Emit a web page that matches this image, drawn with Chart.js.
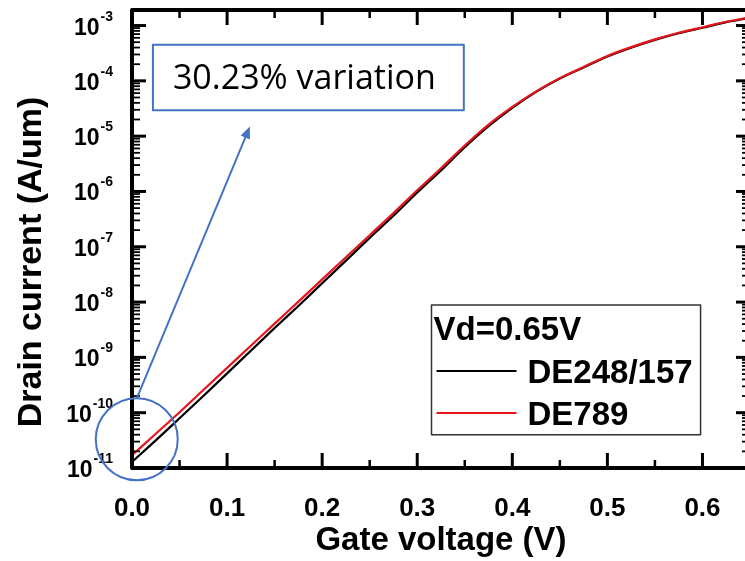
<!DOCTYPE html>
<html lang="en">
<head>
<meta charset="UTF-8">
<title>Drain current vs gate voltage</title>
<script src="https://cdn.jsdelivr.net/npm/chart.js"></script>
<style>
  html, body { margin: 0; padding: 0; overflow: hidden; background: #fff; }
  #wrap { width: 760px; height: 561px; }
</style>
</head>
<body>
<div id="wrap"><canvas id="idvg"></canvas></div>
<script>
// Gate voltage (V)
const gateVoltage = [0.000, 0.025, 0.050, 0.075, 0.100, 0.125, 0.150, 0.175, 0.200, 0.225, 0.250, 0.275, 0.300,
                     0.325, 0.350, 0.375, 0.400, 0.425, 0.450, 0.475, 0.500, 0.525, 0.550, 0.575, 0.600, 0.625, 0.650];

// Drain current (A/um)
const currentDE248 = [1.29e-11, 3.16e-11, 7.94e-11, 2.00e-10, 5.13e-10, 1.32e-9, 3.39e-9, 8.51e-9, 2.19e-8,
                      5.62e-8, 1.45e-7, 3.63e-7, 9.55e-7, 2.40e-6, 6.31e-6, 1.51e-5, 3.24e-5, 6.31e-5, 1.10e-4,
                      1.74e-4, 2.75e-4, 3.98e-4, 5.50e-4, 7.24e-4, 9.12e-4, 1.15e-3, 1.38e-3];
const currentDE789 = [1.70e-11, 4.17e-11, 1.02e-10, 2.57e-10, 6.46e-10, 1.62e-9, 4.07e-9, 1.02e-8, 2.57e-8,
                      6.46e-8, 1.62e-7, 4.07e-7, 1.05e-6, 2.63e-6, 6.76e-6, 1.62e-5, 3.39e-5, 6.46e-5, 1.12e-4,
                      1.78e-4, 2.82e-4, 4.07e-4, 5.62e-4, 7.41e-4, 9.33e-4, 1.17e-3, 1.41e-3];

const seriesNames = ['DE248/157', 'DE789'];
const xTickValues = [0, 0.1, 0.2, 0.3, 0.4, 0.5, 0.6];
const yExponents = [-11, -10, -9, -8, -7, -6, -5, -4, -3];
const legendTitle = 'Vd=0.65V';
const noteText = '30.23% variation';

const BOLD = '"Liberation Sans", Arial, sans-serif';
const BLUE = '#4472C4';

// where the call-out sits, in data units
const noteBox = { x0: 0.022, x1: 0.349, yTop: 4.5e-4, yBottom: 2.95e-5 };
const circleAt = { x: 0.005, y: 3.3e-11 };
const arrowTip = { x: 0.124, y: 1.5e-5 };
const legendBox = { x0: 0.315, x1: 0.598, yTop: 8.9e-9, yBottom: 4.0e-11 };

function line(ctx, x1, y1, x2, y2) {
    ctx.beginPath();
    ctx.moveTo(x1, y1);
    ctx.lineTo(x2, y2);
    ctx.stroke();
}

const decorPlugin = {
    id: 'decor',
    afterDraw(chart) {
        const { ctx, chartArea: a, scales: { x, y } } = chart;
        ctx.save();
        ctx.strokeStyle = '#000';
        ctx.fillStyle = '#000';

        // inward ticks, x (bottom and top)
        for (let i = 0; i <= 13; i++) {
            const px = x.getPixelForValue(i * 0.05);
            const major = i % 2 === 0;
            ctx.lineWidth = major ? 3 : 2.5;
            const len = major ? 15 : 8;
            line(ctx, px, a.bottom, px, a.bottom - len);
            line(ctx, px, a.top, px, a.top + len);
        }

        // inward ticks, y (left and right)
        for (const e of yExponents) {
            for (let m = 1; m <= 9; m++) {
                const v = m * Math.pow(10, e);
                if (v > y.max) break;
                const py = y.getPixelForValue(v);
                const major = m === 1;
                ctx.lineWidth = major ? 3 : 1.8;
                const len = major ? 14 : 8;
                line(ctx, a.left, py, a.left + len, py);
                line(ctx, a.right, py, a.right - len, py);
            }
        }

        // frame
        ctx.lineWidth = 4;
        ctx.lineJoin = 'round';
        ctx.strokeRect(a.left, a.top, a.right - a.left, a.bottom - a.top);

        // y tick labels 10^n
        const labelRight = a.left - 19;
        for (const e of yExponents) {
            const py = y.getPixelForValue(Math.pow(10, e));
            const sup = String(e);
            ctx.font = 'bold 14px ' + BOLD;
            const we = ctx.measureText(sup).width;
            ctx.textAlign = 'left';
            ctx.textBaseline = 'alphabetic';
            ctx.fillText(sup, labelRight - we, py - 5);
            ctx.font = 'bold 23px ' + BOLD;
            ctx.textAlign = 'right';
            ctx.fillText('10', labelRight - we - 1, py + 9);
        }

        // y title
        ctx.save();
        ctx.translate(29, 262);
        ctx.rotate(-Math.PI / 2);
        ctx.font = 'bold 34px ' + BOLD;
        ctx.textAlign = 'center';
        ctx.textBaseline = 'alphabetic';
        ctx.fillText('Drain current (A/um)', 0, 12);
        ctx.restore();

        // legend
        const lx0 = x.getPixelForValue(legendBox.x0), lx1 = x.getPixelForValue(legendBox.x1);
        const ly0 = y.getPixelForValue(legendBox.yTop), ly1 = y.getPixelForValue(legendBox.yBottom);
        ctx.fillStyle = '#fff';
        ctx.fillRect(lx0, ly0, lx1 - lx0, ly1 - ly0);
        ctx.strokeStyle = '#333';
        ctx.lineWidth = 1.5;
        ctx.strokeRect(lx0, ly0, lx1 - lx0, ly1 - ly0);
        ctx.fillStyle = '#000';
        ctx.font = 'bold 33px ' + BOLD;
        ctx.textAlign = 'left';
        ctx.textBaseline = 'alphabetic';
        ctx.fillText(legendTitle, lx0 + 2, ly0 + 23 + 12);
        const order = [1, 0]; // black first, then red
        order.forEach((di, row) => {
            const ds = chart.data.datasets[di];
            const cy = ly0 + 66 + row * 42;
            ctx.strokeStyle = ds.borderColor;
            ctx.lineWidth = 2;
            line(ctx, lx0 + 5, cy, lx0 + 85, cy);
            ctx.fillStyle = '#000';
            ctx.fillText(ds.label, lx0 + 96, cy + 12);
        });

        // call-out box
        const bx0 = x.getPixelForValue(noteBox.x0), bx1 = x.getPixelForValue(noteBox.x1);
        const by0 = y.getPixelForValue(noteBox.yTop), by1 = y.getPixelForValue(noteBox.yBottom);
        ctx.strokeStyle = BLUE;
        ctx.lineWidth = 2;
        ctx.strokeRect(bx0, by0, bx1 - bx0, by1 - by0);
        ctx.fillStyle = '#000';
        ctx.font = '34px "Open Sans", "Noto Sans", sans-serif';
        ctx.textAlign = 'left';
        ctx.fillText(noteText, bx0 + 20, (by0 + by1) / 2 + 12);

        // circle and arrow
        const cx = x.getPixelForValue(circleAt.x), cy = y.getPixelForValue(circleAt.y);
        const r = 41;
        ctx.beginPath();
        ctx.arc(cx, cy, r, 0, Math.PI * 2);
        ctx.stroke();
        const tx = x.getPixelForValue(arrowTip.x), ty = y.getPixelForValue(arrowTip.y);
        const sx = cx, sy = cy - r;
        const ang = Math.atan2(ty - sy, tx - sx);
        const head = 12;
        line(ctx, sx, sy, tx - Math.cos(ang) * head * 0.8, ty - Math.sin(ang) * head * 0.8);
        ctx.fillStyle = BLUE;
        ctx.beginPath();
        ctx.moveTo(tx, ty);
        ctx.lineTo(tx - head * Math.cos(ang) + 5 * Math.sin(ang), ty - head * Math.sin(ang) - 5 * Math.cos(ang));
        ctx.lineTo(tx - head * Math.cos(ang) - 5 * Math.sin(ang), ty - head * Math.sin(ang) + 5 * Math.cos(ang));
        ctx.closePath();
        ctx.fill();

        ctx.restore();
    }
};

const ctx = document.getElementById('idvg').getContext('2d');
new Chart(ctx, {
    type: 'line',
    data: {
        datasets: [
            { label: seriesNames[1], data: gateVoltage.map((v, i) => ({ x: v, y: currentDE789[i] })),
              borderColor: '#e8141b', borderWidth: 2.2, pointRadius: 0, order: 1, cubicInterpolationMode: 'monotone' },
            { label: seriesNames[0], data: gateVoltage.map((v, i) => ({ x: v, y: currentDE248[i] })),
              borderColor: '#000000', borderWidth: 2.2, pointRadius: 0, order: 2, cubicInterpolationMode: 'monotone' }
        ]
    },
    options: {
        responsive: true,
        maintainAspectRatio: false,
        animation: false,
        devicePixelRatio: 1,
        layout: { padding: { top: 10, right: 10 } },
        plugins: { legend: { display: false }, tooltip: { enabled: false } },
        scales: {
            x: {
                type: 'linear',
                min: 0,
                max: 0.65,
                grid: { display: false },
                border: { display: false },
                afterBuildTicks: s => { s.ticks = xTickValues.map(v => ({ value: v })); },
                afterFit: s => { s.height = 93; },
                ticks: {
                    color: '#000',
                    padding: 17,
                    maxRotation: 0,
                    autoSkip: false,
                    font: { family: BOLD, size: 26, weight: 'bold' },
                    callback: v => Number(v).toFixed(1)
                },
                title: {
                    display: true,
                    text: 'Gate voltage (V)',
                    color: '#000',
                    padding: 0,
                    font: { family: BOLD, size: 33, weight: 'bold' }
                }
            },
            y: {
                type: 'logarithmic',
                min: 1e-11,
                max: 1.91e-3,
                grid: { display: false },
                border: { display: false },
                ticks: { display: false },
                afterFit: s => { s.width = 132; }
            }
        }
    },
    plugins: [decorPlugin]
});
</script>
</body>
</html>
